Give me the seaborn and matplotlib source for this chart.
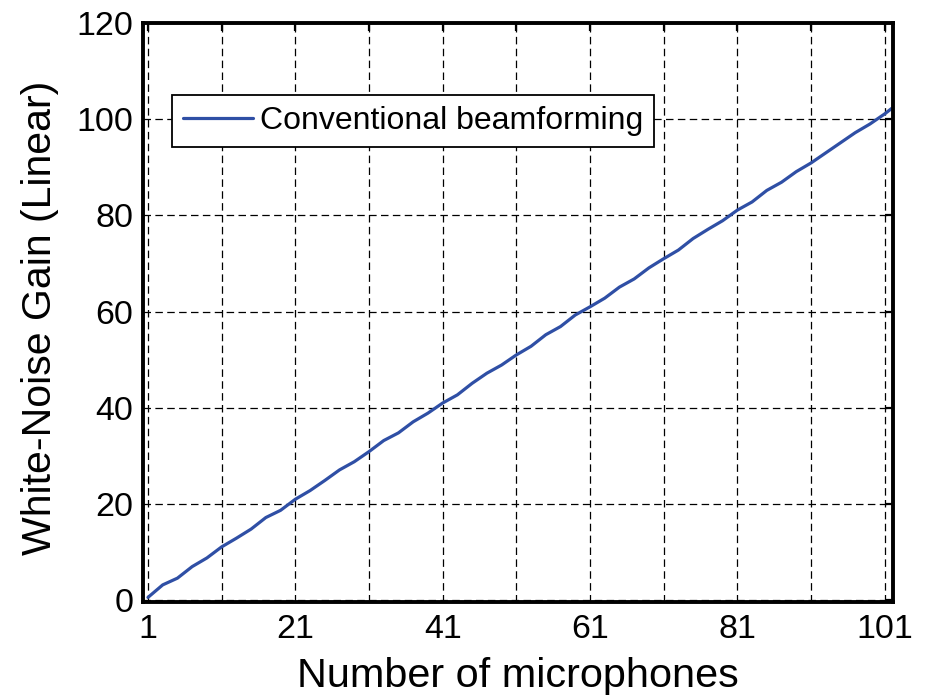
import numpy as np
import pandas as pd
import matplotlib
matplotlib.use("Agg")
import matplotlib.pyplot as plt
import seaborn as sns

# ---- data ----
num_mics = [1, 3, 5, 7, 9, 11, 13, 15, 17, 19, 21, 23, 25, 27, 29, 31, 33, 35, 37, 39,
            41, 43, 45, 47, 49, 51, 53, 55, 57, 59, 61, 63, 65, 67, 69, 71, 73, 75, 77, 79,
            81, 83, 85, 87, 89, 91, 93, 95, 97, 99, 101, 102]
wng_conventional = [0.6, 3.2, 4.6, 7.0, 8.8, 11.1, 12.9, 14.8, 17.2, 18.7,
                    21.0, 22.8, 24.9, 27.1, 28.8, 30.9, 33.2, 34.8, 37.1, 38.9,
                    41.0, 42.7, 45.1, 47.2, 48.9, 51.0, 52.8, 55.2, 56.9, 59.3,
                    61.0, 62.8, 65.1, 66.8, 69.1, 71.0, 72.8, 75.2, 77.1, 78.9,
                    81.1, 82.8, 85.2, 86.9, 89.1, 90.9, 93.0, 95.1, 97.2, 99.0,
                    101.1, 102.3]
series_label = "Conventional beamforming"
x_ticks = [1, 11, 21, 31, 41, 51, 61, 71, 81, 91, 101]
x_tick_labels = ["1", "", "21", "", "41", "", "61", "", "81", "", "101"]
y_ticks = [0, 20, 40, 60, 80, 100, 120]
x_label = "Number of microphones"
y_label = "White-Noise Gain (Linear)"

df = pd.DataFrame({"N": num_mics, "WNG": wng_conventional, "method": series_label})

sns.set_style("white")
plt.rcParams["font.family"] = ["Liberation Sans", "DejaVu Sans"]
plt.rcParams["text.color"] = "black"
plt.rcParams["axes.labelcolor"] = "black"

fig = plt.figure(figsize=(9.29, 6.97), dpi=100)
ax = fig.add_axes([0.1539, 0.1367, 0.8071, 0.8303])

sns.lineplot(data=df, x="N", y="WNG", hue="method", palette=["#2f4fa5"],
             linewidth=2.3, ax=ax, legend=True)

ax.set_xlim(0.32, 102.1)
ax.set_ylim(-0.3, 120)
ax.set_xticks(x_ticks)
ax.set_xticklabels(x_tick_labels)
ax.set_yticks(y_ticks)

ax.grid(True, color="black", linestyle=(0, (6, 3.5)), linewidth=0.9)
ax.set_axisbelow(True)

for sp in ax.spines.values():
    sp.set_visible(True)
    sp.set_color("black")
    sp.set_linewidth(2.8)

ax.tick_params(axis="both", which="major", direction="in", length=6, width=1.6,
               labelsize=24.5, colors="black", top=True, right=True)
ax.tick_params(axis="x", pad=9)
ax.tick_params(axis="y", pad=7)

ax.set_xlabel(x_label, fontsize=29.8, color="black")
ax.set_ylabel(y_label, fontsize=29.5, color="black")
ax.xaxis.set_label_coords(0.5, -0.095)
ax.yaxis.set_label_coords(-0.112, 0.49)

leg = ax.legend(loc="upper left", bbox_to_anchor=(0.0383, 0.8756), fontsize=23,
                frameon=True, fancybox=False, framealpha=1, edgecolor="black",
                handlelength=2.2, handletextpad=0.2, borderpad=0.35, borderaxespad=0)
leg.get_frame().set_linewidth(1.3)
for t in leg.get_texts():
    t.set_color("black")
for h in leg.get_lines():
    h.set_linewidth(2.3)

fig.savefig("out.png", dpi=100)
